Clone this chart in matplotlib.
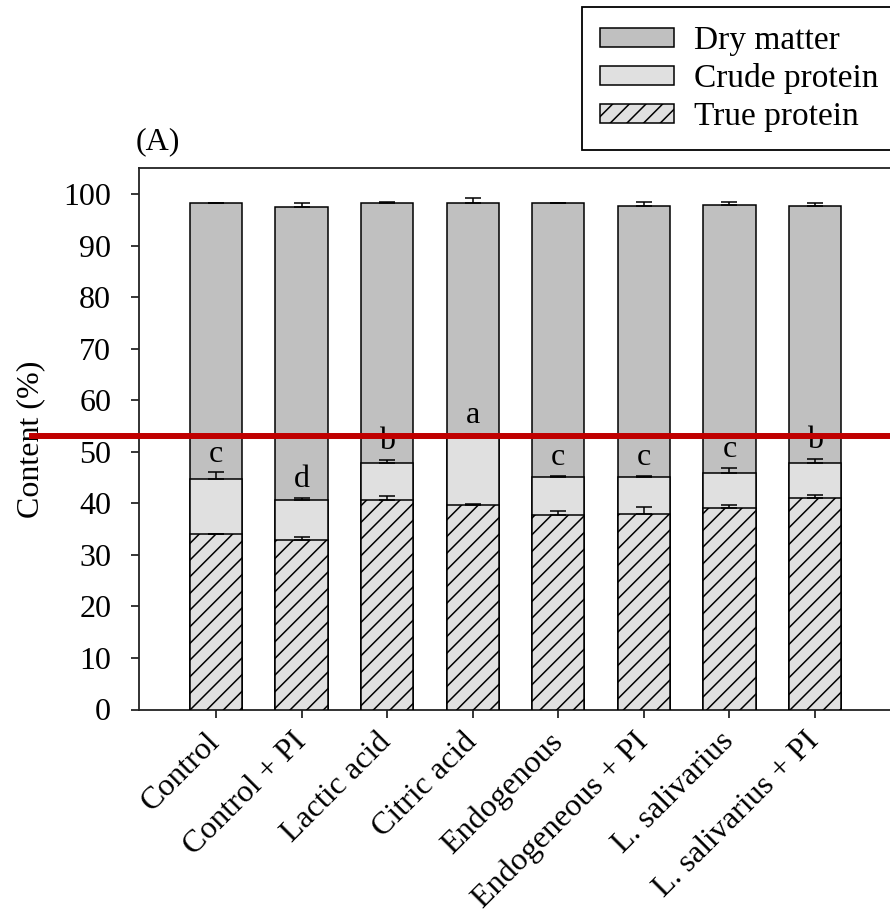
import numpy as np
import matplotlib
matplotlib.use('Agg')
import matplotlib.pyplot as plt

treatments = ['Control', 'Control + PI', 'Lactic acid', 'Citric acid', 'Endogenous',
	'Endogeneous + PI', 'L. salivarius', 'L. salivarius + PI']
dry_matter = [98.2, 97.5, 98.2, 98.2, 98.2, 97.7, 97.9, 97.7]
dry_err = [0.1, 0.7, 0.3, 1.1, 0.0, 0.8, 0.6, 0.6]
crude_protein = [44.8, 40.7, 47.8, 53.2, 45.1, 45.1, 45.8, 47.8]
crude_err = [1.2, 0.3, 0.6, 0.3, 0.2, 0.2, 1.0, 0.8]
true_protein = [34.1, 32.9, 40.6, 39.7, 37.8, 38.0, 39.0, 41.0]
true_err = [0.0, 0.6, 0.8, 0.1, 0.7, 1.2, 0.6, 0.6]
letters = ['c', 'd', 'b', 'a', 'c', 'c', 'c', 'b']
red_line = 53.1

plt.rcParams['font.family'] = ['Liberation Serif', 'DejaVu Serif']
plt.rcParams['hatch.linewidth'] = 1.1
FS = 23


def draw_bars(ax, x, values, err, color, label, hatch=None, z=2):
	bars = ax.bar(x, values, width=0.61, color=color, edgecolor='black',
		linewidth=1.1, hatch=hatch, label=label, zorder=z)
	ax.errorbar(x, values, yerr=[np.zeros(len(err)), err], fmt='none',
		ecolor='black', elinewidth=1.1, capsize=6, capthick=1.1, zorder=z + 0.5)
	return bars


def main():
	fig = plt.figure(figsize=(8.9, 9.14), dpi=100)
	ax = fig.add_axes([139 / 890, 1 - 709.5 / 914, 753 / 890, 541.2 / 914])
	x = np.arange(len(treatments))

	b1 = draw_bars(ax, x, dry_matter, dry_err, '#c0c0c0', 'Dry matter', z=2)
	b2 = draw_bars(ax, x, crude_protein, crude_err, '#e0e0e0', 'Crude protein', z=3)
	b3 = draw_bars(ax, x, true_protein, true_err, '#e0e0e0', 'True protein', hatch='//', z=4)

	for i, letter in enumerate(letters):
		ax.text(x[i], crude_protein[i] + crude_err[i] + 2.1, letter, ha='center',
			va='baseline', fontsize=FS, zorder=6)

	ax.set_xlim(-0.9, 7.9)
	ax.set_ylim(0, 105)
	ax.set_yticks(np.arange(0, 101, 10))
	ax.set_xticks(x)
	ax.set_xticklabels(treatments, rotation=45, ha='right', va='center',
		rotation_mode='anchor')
	ax.tick_params(axis='both', direction='out', length=6, width=1.1, labelsize=FS)
	ax.tick_params(axis='y', pad=14)
	ax.tick_params(axis='x', pad=14)
	for side in ['left', 'bottom', 'top', 'right']:
		ax.spines[side].set_linewidth(1.3)
		ax.spines[side].set_color('#222222')

	ax.set_ylabel('Content (%)', fontsize=FS)
	ax.yaxis.set_label_coords(-0.125, 0.5)
	ax.text(-0.005, 1.049, '(A)', transform=ax.transAxes, fontsize=FS,
		ha='left', va='center')

	# red marker line drawn across the plot
	ax.axhline(red_line, xmin=(32 - 139) / 753, xmax=1.0, color='#c00000',
		linewidth=4.3, clip_on=False, zorder=10)

	leg = fig.legend(handles=[b1, b2, b3], loc='upper left',
		bbox_to_anchor=(582 / 890, 1 - 7 / 914), fontsize=24, frameon=True,
		fancybox=False, edgecolor='black', framealpha=1, borderaxespad=0,
		handlelength=2.2, handleheight=0.5, handletextpad=0.6,
		labelspacing=0.22, borderpad=0.55)
	leg.get_frame().set_linewidth(1.3)

	plt.savefig('out.png', dpi=100)


main()
